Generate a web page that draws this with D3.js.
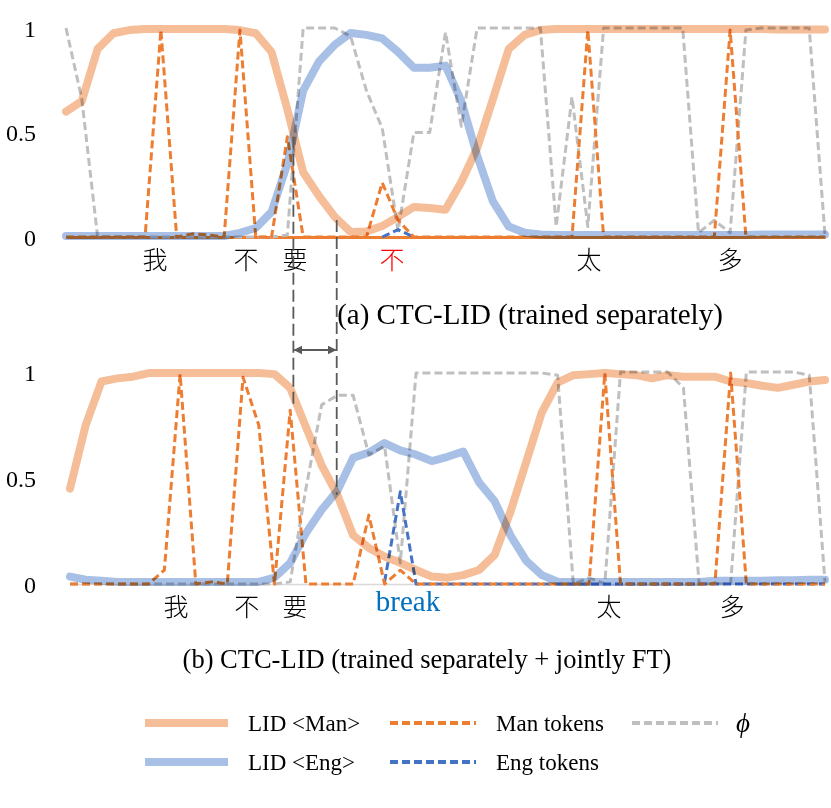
<!DOCTYPE html>
<html>
<head>
<meta charset="utf-8">
<script src="https://cdn.jsdelivr.net/npm/d3@7"></script>
<style>
  body { margin: 0; background: #fff; }
  svg { display: block; }
</style>
</head>
<body>
<div id="chart"></div>
<script>
// Frame indices shared by both panels (49 CTC frames)
const frames = d3.range(49);

// (a) CTC-LID, trained separately
const manLidA = [0.60,0.65,0.90,0.975,0.99,0.995,0.995,0.995,0.995,0.995,
  0.995,0.99,0.975,0.885,0.61,0.31,0.196,0.096,0.024,0.026,
  0.053,0.096,0.144,0.139,0.13,0.263,0.426,0.66,0.90,0.967,
  0.99,0.995,0.995,0.995,0.995,0.995,0.995,0.995,0.995,0.995,
  0.995,0.995,0.995,0.995,0.995,0.993,0.993,0.993,0.993];
const engLidA = [0.005,0.005,0.005,0.005,0.005,0.005,0.005,0.005,0.005,0.005,
  0.005,0.02,0.043,0.12,0.35,0.70,0.84,0.92,0.976,0.967,
  0.95,0.886,0.81,0.81,0.82,0.65,0.39,0.17,0.05,0.02,
  0.012,0.01,0.01,0.01,0.01,0.01,0.01,0.01,0.01,0.01,
  0.01,0.01,0.01,0.01,0.012,0.012,0.012,0.012,0.012];
const manTokA = [0,0,0,0,0,0,0.99,0,0.015,0.01,
  0,0.99,0,0,0.48,0,0,0,0,0,
  0.26,0.08,0,0,0,0,0,0,0,0,
  0,0,0,0.99,0,0,0,0,0,0,
  0,0,0.99,0,0,0,0,0,0];
const engTokA = [null,null,null,null,null,null,null,null,null,null,
  null,null,null,null,null,null,null,null,null,null,
  0,0.035,0,null,null,null,null,null,null,null,
  null,null,null,null,null,null,null,null,null,null,
  null,null,null,null,null,null,null,null,null];
const phiA = [1.0,0.66,0,0,0,0,0,0,0,0,
  0,0,0,0,0.01,1.0,1.0,1.0,0.96,0.70,
  0.52,0.03,0.50,0.50,0.98,0.53,1.0,1.0,1.0,1.0,
  1.0,0.05,0.67,0.05,1.0,1.0,1.0,1.0,1.0,1.0,
  0.02,0.08,0.02,0.99,1.0,1.0,1.0,1.0,0.01];

// (b) CTC-LID, trained separately + jointly FT
const manLidB = [0.45,0.75,0.955,0.97,0.978,0.995,0.995,0.995,0.995,0.995,
  0.995,0.995,0.995,0.99,0.925,0.74,0.56,0.42,0.23,0.17,
  0.13,0.10,0.066,0.035,0.03,0.042,0.066,0.137,0.34,0.575,
  0.81,0.95,0.985,0.99,0.995,0.99,0.985,0.97,0.985,0.978,
  0.978,0.978,0.955,0.948,0.935,0.925,0.94,0.955,0.962];
const engLidB = [0.035,0.02,0.015,0.01,0.01,0.01,0.01,0.01,0.01,0.01,
  0.01,0.01,0.01,0.03,0.10,0.24,0.35,0.44,0.595,0.62,
  0.665,0.63,0.61,0.58,0.60,0.625,0.48,0.39,0.23,0.11,
  0.042,0.011,0.01,0.01,0.01,0.01,0.01,0.01,0.01,0.01,
  0.01,0.015,0.015,0.015,0.015,0.018,0.018,0.02,0.02];
const manTokB = [0,0,0,0,0,0,0.066,0.99,0,0.01,
  0,0.975,0.75,0,0.82,0,0,0,0,0.325,
  0,0.065,0,0,0,0,0,0,0,0,
  0,0,0,0,0.995,0,0,0,0,0,
  0,0,0.995,0,0,0,0,0,0];
const engTokB = [null,null,null,null,null,null,null,null,null,null,
  null,null,null,null,null,null,null,null,null,null,
  0.01,0.435,0,0,0,0,0,0,0,0,
  0,0,0,0,0,0,0,0,0,0,
  0,0,0,0,0,0,0,0,0];
const phiB = [0,0,0,0,0,0,0,0,0,0,
  0,0,0,0,0.01,0.45,0.845,0.89,0.89,0.61,
  0.65,0.10,0.995,0.995,0.995,0.995,0.995,0.995,0.995,0.995,
  0.995,0.985,0,0.03,0,1.0,1.0,1.0,1.0,0.925,
  0,0,0,1.0,1.0,1.0,1.0,0.985,0.01];

// Recognised tokens and the frame they sit under
const tokensA = ["我", "不", "要", "不", "太", "多"];
const tokenFramesA = [5.63, 11.38, 14.48, 20.62, 33.08, 42.0];
const tokensB = ["我", "不", "要", "break", "太", "多"];
const tokenFramesB = [6.74, 11.23, 14.3, 21.49, 34.27, 42.09];

const yTicks = [0, 0.5, 1];

const legendItems = [
  { label: "LID <Man>", key: "manLid" },
  { label: "Man tokens", key: "manTok" },
  { label: "\u03D5", key: "phi" },
  { label: "LID <Eng>", key: "engLid" },
  { label: "Eng tokens", key: "engTok" }
];

const width = 831;
const height = 808;
const serif = '"Liberation Serif", "Times New Roman", serif';
const cjk = '"Noto Sans CJK SC", sans-serif';

const styles = {
  manLid: { color: "#F5BE98", width: 8, dash: null, blend: true },
  engLid: { color: "#A9C0E6", width: 8, dash: null, blend: true },
  manTok: { color: "#ED7D31", width: 3, dash: "8,4" },
  engTok: { color: "#4472C4", width: 3, dash: "8,4" },
  phi:    { color: "#BFBFBF", width: 3, dash: "8,4" }
};

const svg = d3.select("#chart")
  .append("svg")
  .attr("width", width)
  .attr("height", height);

svg.append("rect")
  .attr("width", width)
  .attr("height", height)
  .attr("fill", "#fff");

const drawPanel = (cfg) => {
  const xScale = d3.scaleLinear().domain([0, frames.length - 1]).range(cfg.xRange);
  const yScale = d3.scaleLinear().domain([0, 1]).range(cfg.yRange);
  const g = svg.append("g");

  // Baseline (x axis without ticks)
  const axisG = g.append("g")
    .attr("transform", `translate(0, ${yScale(0)})`)
    .call(d3.axisBottom(xScale).tickValues([]).tickSizeOuter(0));
  axisG.select(".domain")
    .attr("stroke", cfg.baseColor)
    .attr("stroke-width", cfg.baseWidth);

  // Y tick labels
  const leftAxis = d3.axisLeft(yScale)
    .tickValues(yTicks)
    .tickSize(0)
    .tickPadding(0)
    .tickFormat(d => d === 0.5 ? "0.5" : d3.format("d")(d));
  const yG = g.append("g")
    .attr("transform", `translate(36, 0)`)
    .call(leftAxis);
  yG.select(".domain").remove();
  yG.selectAll("text")
    .attr("fill", "#000")
    .attr("dy", "0.34em")
    .style("font-family", serif)
    .style("font-size", "24px");

  const line = d3.line()
    .defined(d => d.v != null)
    .x(d => xScale(d.i))
    .y(d => yScale(d.v));

  const order = ["phi", "engTok", "manTok", "engLid", "manLid"];
  order.forEach(key => {
    const st = styles[key];
    const values = frames.map(i => ({ i, v: cfg.series[key][i] }));
    g.append("path")
      .attr("fill", "none")
      .attr("stroke", st.color)
      .attr("stroke-width", st.width)
      .attr("stroke-dasharray", st.dash)
      .attr("stroke-linejoin", "round")
      .attr("stroke-linecap", st.dash ? "butt" : "round")
      .style("mix-blend-mode", st.blend ? "multiply" : null)
      .attr("d", line(values));
  });

  // Token labels under the baseline
  cfg.tokens.forEach((t, k) => {
    const isLatin = /^[a-z]+$/i.test(t);
    g.append("text")
      .attr("x", xScale(cfg.tokenFrames[k]))
      .attr("y", yScale(0) + (isLatin ? 27 : 21))
      .attr("text-anchor", "middle")
      .attr("dominant-baseline", isLatin ? "auto" : "central")
      .attr("fill", cfg.tokenColors[k])
      .style("font-family", isLatin ? serif : cjk)
      .style("font-weight", isLatin ? 400 : 300)
      .style("font-size", isLatin ? "29px" : "25px")
      .text(t);
  });

  return { xScale, yScale };
};

const panelA = drawPanel({
  xRange: [66, 825],
  yRange: [237, 28],
  baseColor: "#ED7D31",
  baseWidth: 3,
  series: { manLid: manLidA, engLid: engLidA, manTok: manTokA, engTok: engTokA, phi: phiA },
  tokens: tokensA,
  tokenFrames: tokenFramesA,
  tokenColors: ["#000", "#000", "#000", "#FF0000", "#000", "#000"]
});

const panelB = drawPanel({
  xRange: [70, 825],
  yRange: [584, 372],
  baseColor: "#D9D9D9",
  baseWidth: 1.5,
  series: { manLid: manLidB, engLid: engLidB, manTok: manTokB, engTok: engTokB, phi: phiB },
  tokens: tokensB,
  tokenFrames: tokenFramesB,
  tokenColors: ["#000", "#000", "#000", "#0070C0", "#000", "#000"]
});

// Panel titles
svg.append("text")
  .attr("x", 530)
  .attr("y", 324)
  .attr("text-anchor", "middle")
  .style("font-family", serif)
  .style("font-size", "29px")
  .text("(a) CTC-LID (trained separately)");

svg.append("text")
  .attr("x", 427)
  .attr("y", 668)
  .attr("text-anchor", "middle")
  .style("font-family", serif)
  .style("font-size", "26.5px")
  .text("(b) CTC-LID (trained separately + jointly FT)");

// Alignment guides linking the two panels (positions in panel-a frame units)
const guides = [
  { frame: 14.38, top: 0.48, bottom: 0.83 },
  { frame: 17.12, top: 0.081, bottom: 0.42 }
];
const guideX = guides.map(d => panelA.xScale(d.frame));
guides.forEach((d, k) => {
  svg.append("line")
    .attr("x1", guideX[k]).attr("x2", guideX[k])
    .attr("y1", panelA.yScale(d.top))
    .attr("y2", panelB.yScale(d.bottom))
    .attr("stroke", "#595959")
    .attr("stroke-width", 1.8)
    .attr("stroke-dasharray", "12,5");
});

svg.append("defs").append("marker")
  .attr("id", "head")
  .attr("viewBox", "0 0 10 10")
  .attr("refX", 9).attr("refY", 5)
  .attr("markerWidth", 5).attr("markerHeight", 5)
  .attr("orient", "auto-start-reverse")
  .append("path")
  .attr("d", "M0,0 L10,5 L0,10 z")
  .attr("fill", "#595959");

svg.append("line")
  .attr("x1", guideX[0] + 1).attr("x2", guideX[1] - 1)
  .attr("y1", 350).attr("y2", 350)
  .attr("stroke", "#595959")
  .attr("stroke-width", 1.8)
  .attr("marker-start", "url(#head)")
  .attr("marker-end", "url(#head)");

// Legend
const legendCols = [145, 390, 632];
const legendRows = [723, 762];
const legendPos = [[0, 0], [1, 0], [2, 0], [0, 1], [1, 1]];
const legend = svg.append("g");
legendItems.forEach((item, k) => {
  const st = styles[item.key];
  const [c, r] = legendPos[k];
  const lx = legendCols[c];
  const ly = legendRows[r];
  const len = c === 0 ? 83 : 86;
  legend.append("line")
    .attr("x1", lx).attr("x2", lx + len)
    .attr("y1", ly).attr("y2", ly)
    .attr("stroke", st.color)
    .attr("stroke-width", st.dash ? 4 : 8)
    .attr("stroke-dasharray", st.dash);
  legend.append("text")
    .attr("x", lx + len + (item.key === "phi" ? 18 : 20))
    .attr("y", ly)
    .attr("dy", "0.33em")
    .style("font-family", serif)
    .style("font-size", item.key === "phi" ? "27px" : "23px")
    .style("font-style", item.key === "phi" ? "italic" : "normal")
    .text(item.label);
});
</script>
</body>
</html>
